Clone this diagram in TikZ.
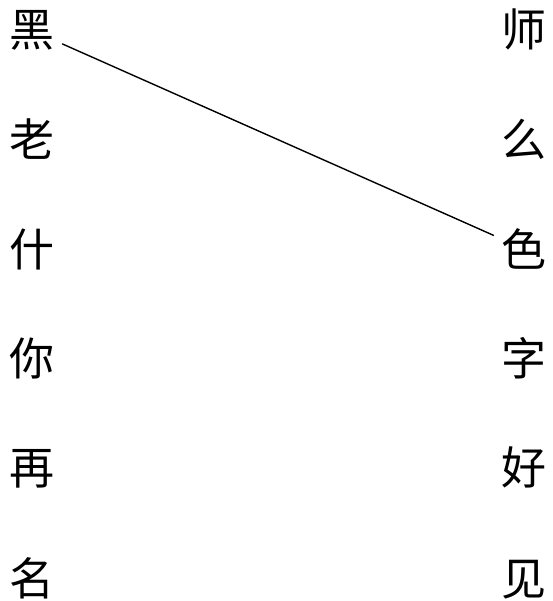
\documentclass[tikz,border=0pt]{standalone}
\usepackage{fontspec}
\newfontfamily\cjk{Noto Sans CJK SC}
\usepackage{tikz}
\usetikzlibrary{matrix,positioning}
\tikzset{zi/.style={font=\cjk\fontsize{45}{45}\selectfont, minimum size=60pt, inner sep=0pt}}

\begin{document}
\begin{tikzpicture}
\useasboundingbox (0,0) rectangle (552pt,-601pt);
\matrix (m) at (278pt,-304.5pt) [matrix of nodes, row sep=49pt, column sep=432pt, nodes={zi}]
{
黑 & 师 \\
老 & 么 \\
什 & 色 \\
你 & 字 \\
再 & 好 \\
名 & 见 \\ };
\path[-]
  (m-1-1) edge[line width=1.4pt] (m-3-2);
\end{tikzpicture}
\end{document}
